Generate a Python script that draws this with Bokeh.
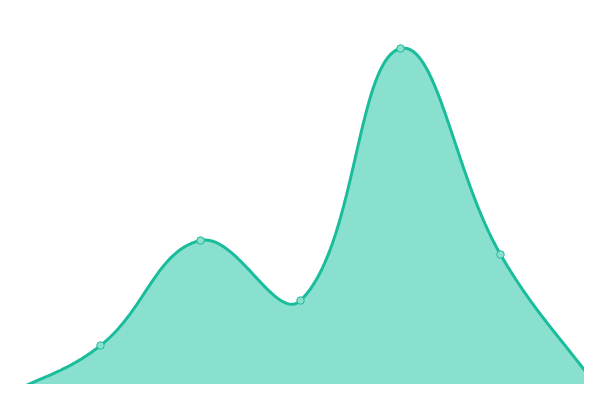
import numpy as np
from bokeh.plotting import figure
from bokeh.models import Range1d
from bokeh.embed import file_html
from bokeh.resources import INLINE

# data
xs = [0, 1, 2, 3, 4, 5, 6]
values = [3, 55, 160, 100, 352, 146, 9]

LINE = "#1abc9c"
FILL = "#89e0cf"

# smooth curve (cardinal-style spline, tension 0.4) computed in screen-like units
XS = 100.0  # px per x unit
t = 0.4
P = [(x * XS, v) for x, v in zip(xs, values)]
n = len(P)
cps = []
for i in range(n):
    prev = P[i - 1] if i > 0 else P[i]
    cur = P[i]
    nxt = P[i + 1] if i < n - 1 else P[i]
    d01 = np.hypot(cur[0] - prev[0], cur[1] - prev[1])
    d12 = np.hypot(nxt[0] - cur[0], nxt[1] - cur[1])
    tot = d01 + d12
    s01 = d01 / tot if tot else 0
    s12 = d12 / tot if tot else 0
    fa, fb = t * s01, t * s12
    cp_prev = (cur[0] - fa * (nxt[0] - prev[0]), cur[1] - fa * (nxt[1] - prev[1]))
    cp_next = (cur[0] + fb * (nxt[0] - prev[0]), cur[1] + fb * (nxt[1] - prev[1]))
    cps.append((cp_prev, cp_next))

cx, cy = [], []
tt = np.linspace(0, 1, 60)
for i in range(n - 1):
    p0 = np.array(P[i]); p3 = np.array(P[i + 1])
    p1 = np.array(cps[i][1]); p2 = np.array(cps[i + 1][0])
    for u in (tt if i == 0 else tt[1:]):
        b = ((1 - u) ** 3) * p0 + 3 * ((1 - u) ** 2) * u * p1 + 3 * (1 - u) * u * u * p2 + u ** 3 * p3
        cx.append(b[0] / XS)
        cy.append(b[1])

p = figure(width=584, height=384, output_backend="svg", toolbar_location=None,
           x_range=Range1d(0, 5.84), y_range=Range1d(16, 400),
           min_border=0, min_border_left=0, min_border_right=0,
           min_border_top=0, min_border_bottom=0)
p.axis.visible = False
p.grid.visible = False
p.outline_line_color = None
p.background_fill_color = "white"
p.border_fill_color = "white"

p.varea(x=cx, y1=[0] * len(cx), y2=cy, fill_color=FILL, fill_alpha=1.0)
p.line(x=cx, y=cy, line_color=LINE, line_width=3)
p.scatter(x=xs, y=values, size=7.5, fill_color="#8ae0cf", line_color=LINE, line_width=1)

open("out.html", "w").write(file_html(p, INLINE))
